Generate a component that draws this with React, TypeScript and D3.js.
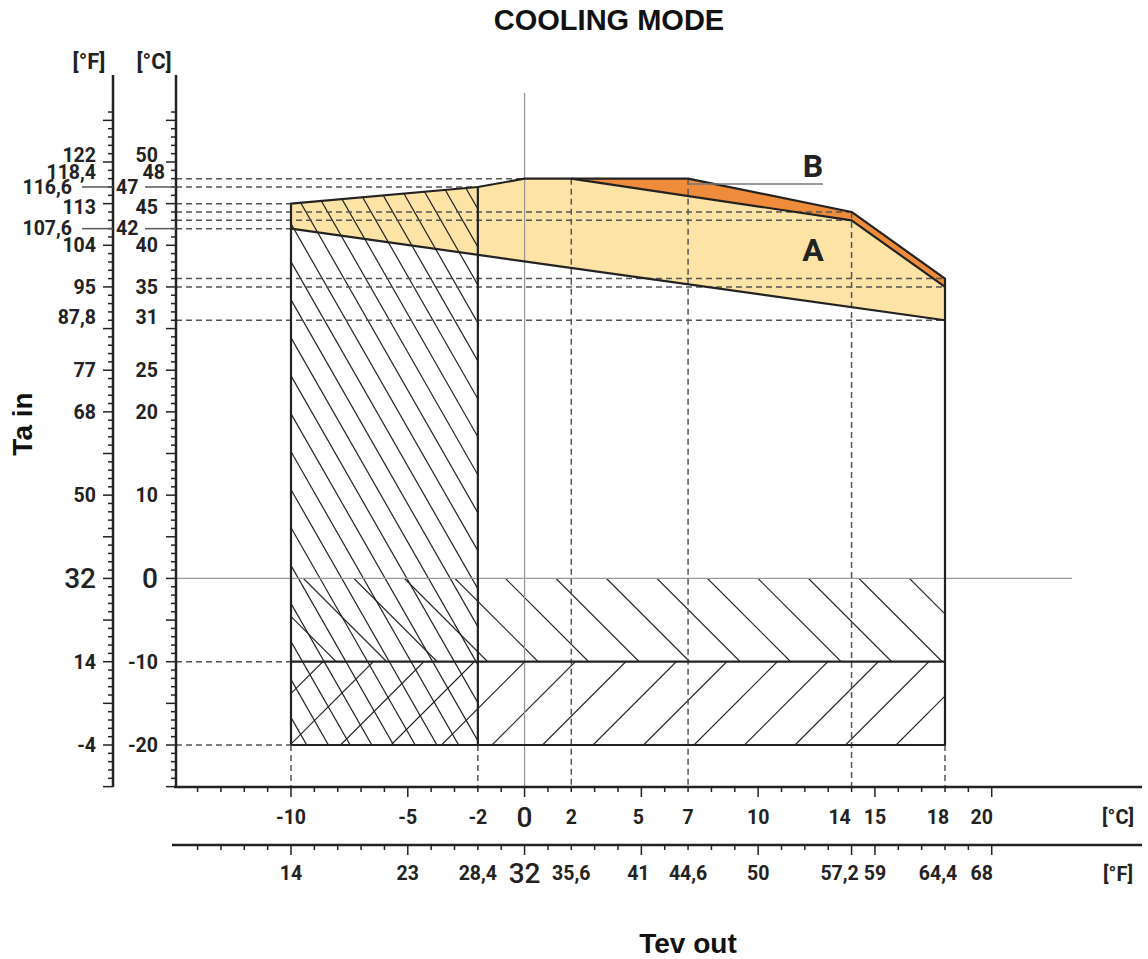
import React from 'react';
import * as d3 from 'd3';

const W = 1148;
const H = 959;

// Ta in (left axes) tick labels
const yTicksC = [50, 48, 47, 45, 42, 40, 35, 31, 25, 20, 10, 0, -10, -20];
const yTicksF = ['122', '118,4', '116,6', '113', '107,6', '104', '95', '87,8', '77', '68', '50', '32', '14', '-4'];
// Tev out (bottom axes) tick labels
const xTicksC = [-10, -5, -2, 0, 2, 5, 7, 10, 14, 15, 18, 20];
const xTicksF = ['14', '23', '28,4', '32', '35,6', '41', '44,6', '50', '57,2', '59', '64,4', '68'];

// envelope points [Tev out °C, Ta in °C]
const areaA = [[-10, 45], [-2, 47], [0, 48], [2, 48], [14, 43], [18, 35], [18, 31], [-10, 42]];
const areaB = [[2, 48], [7, 48], [14, 44], [18, 36], [18, 35], [14, 43]];
const outline = [[-10, -20], [-10, 45], [-2, 47], [0, 48], [7, 48], [14, 44], [18, 36], [18, -20], [-10, -20]];
const lowerA = [[-10, 42], [18, 31]];
const splitAB = [[2, 48], [14, 43], [18, 35]];
const leftColumn = [[-10, -20], [-10, 45], [-2, 47], [-2, -20]];

// dashed guides: [Ta, Tev where it stops] and [Tev, Ta where it starts]
const guideH = [[48, 0], [47, -2], [45, -10], [44, 14], [43, 14], [42, -10], [36, 18], [35, 18], [31, 18], [-10, -10], [-20, -10]];
const guideV = [[-10, -20], [-2, -20], [2, 48], [7, 48], [14, 44], [18, -20]];

const leaderTicks = [47, 42];
// small shifts so crowded labels don't collide (px)
const yLabelNudge: Record<number, number> = { 50: -7, 48: -6, 45: 4, 31: -3 };
const xLabelNudge: Record<number, number> = { 5: -3, 14: -12, 18: -7, 20: -10 };

const FONT = 'Roboto, sans-serif';
const TITLE_FONT = '"Liberation Sans", Arial, sans-serif';
const INK = '#222';

const x = d3.scaleLinear().domain([-10, 18]).range([291, 945]);
const y = d3.scaleLinear().domain([-20, 50]).range([745, 162]);

const line = d3.line<number[]>().x(d => x(d[0])).y(d => y(d[1]));

// hatch lines through (x0 + k*step, y0) with screen slope dy/dx
const hatch = (x0: number, y0: number, step: number, slope: number, top: number, bottom: number) => {
  const out: number[][] = [];
  for (let k = -60; k <= 60; k++) {
    const xb = x0 + k * step;
    out.push([xb + (top - y0) / slope, top, xb + (bottom - y0) / slope, bottom]);
  }
  return out;
};

const App = () => {
  const axisTop = 75;
  const axisBottom = 787;
  const fAxisX = 113;
  const cAxisX = 176;
  const fBottomY = 845;

  const yTickVals = d3.range(-25, 57);
  const xTickVals = d3.range(-14, 21);

  const steep = hatch(450, 578, 21.7, 1.75, 170, 760);
  const back = hatch(707, 578, 50.5, 1, 570, 670);
  const fwd = hatch(693, 746, 50.5, -1, 655, 755);

  const LBL = 19.5;

  return (
    <svg width={W} height={H} style={{ display: 'block', position: 'absolute', left: 0, top: 0, background: '#fff' }}
      fontFamily={FONT}>
      <defs>
        <clipPath id="clipL"><path d={line(leftColumn) + 'Z'} /></clipPath>
        <clipPath id="clipU"><rect x={x(-10)} y={y(0)} width={x(18) - x(-10)} height={y(-10) - y(0)} /></clipPath>
        <clipPath id="clipD"><rect x={x(-10)} y={y(-10)} width={x(18) - x(-10)} height={y(-20) - y(-10)} /></clipPath>
      </defs>

      <text x={609} y={30} textAnchor="middle" fontFamily={TITLE_FONT} fontSize={29} fontWeight={700} fill="#111">COOLING MODE</text>

      {/* fills */}
      <path d={line(areaA) + 'Z'} fill="#FDE3A5" />
      <path d={line(areaB) + 'Z'} fill="#EF8C3C" />

      {/* hatching */}
      <g stroke={INK} strokeWidth={1.2}>
        <g clipPath="url(#clipL)">
          {steep.map((l, i) => <line key={i} x1={l[0]} y1={l[1]} x2={l[2]} y2={l[3]} />)}
        </g>
        <g clipPath="url(#clipU)">
          {back.map((l, i) => <line key={i} x1={l[0]} y1={l[1]} x2={l[2]} y2={l[3]} />)}
        </g>
        <g clipPath="url(#clipD)">
          {fwd.map((l, i) => <line key={i} x1={l[0]} y1={l[1]} x2={l[2]} y2={l[3]} />)}
        </g>
      </g>

      {/* thin zero lines */}
      <line x1={cAxisX} x2={1072} y1={y(0)} y2={y(0)} stroke="#999" strokeWidth={1.3} />
      <line x1={x(0)} x2={x(0)} y1={93} y2={axisBottom} stroke="#999" strokeWidth={1.3} />

      {/* dashed guides */}
      <g stroke="#555" strokeWidth={1.5} strokeDasharray="6,4">
        {guideH.map(([t, to], i) => (
          <line key={'h' + i} x1={cAxisX} x2={x(to)} y1={y(t)} y2={y(t)} />
        ))}
        {guideV.map(([tv, from], i) => (
          <line key={'v' + i} x1={x(tv)} x2={x(tv)} y1={y(from)} y2={axisBottom} />
        ))}
      </g>

      {/* outlines */}
      <g fill="none" stroke={INK} strokeWidth={2.2} strokeLinejoin="round">
        <path d={line(outline) ?? ''} />
        <path d={line(lowerA) ?? ''} />
        <path d={line(splitAB) ?? ''} />
        <line x1={x(-2)} x2={x(-2)} y1={y(-20)} y2={y(47)} />
        <line x1={x(-10)} x2={x(18)} y1={y(-10)} y2={y(-10)} />
      </g>

      {/* A / B labels */}
      <line x1={x(7)} x2={823} y1={184} y2={184} stroke="#777" strokeWidth={1.3} />
      <text x={813} y={177} textAnchor="middle" fontSize={32} fontWeight={700} fill={INK}>B</text>
      <text x={813} y={261} textAnchor="middle" fontSize={32} fontWeight={700} fill={INK}>A</text>

      {/* left axes */}
      <g stroke={INK}>
        <line x1={fAxisX} x2={fAxisX} y1={axisTop} y2={axisBottom} strokeWidth={2.5} />
        <line x1={cAxisX} x2={cAxisX} y1={axisTop} y2={axisBottom} strokeWidth={2.5} />
        {yTickVals.map(t => {
          const len = t % 5 === 0 ? 10 : 5;
          return (
            <g key={t} strokeWidth={1.5}>
              <line x1={fAxisX - len} x2={fAxisX} y1={y(t)} y2={y(t)} />
              <line x1={cAxisX - len} x2={cAxisX} y1={y(t)} y2={y(t)} />
            </g>
          );
        })}
      </g>
      <text x={89} y={69} textAnchor="middle" fontSize={22} fontWeight={700} fill={INK}>[°F]</text>
      <text x={154} y={69} textAnchor="middle" fontSize={22} fontWeight={700} fill={INK}>[°C]</text>
      {yTicksC.map((t, i) => {
        const yy = y(t) + (yLabelNudge[t] ?? 0);
        const big = t === 0;
        const fs = big ? 28 : LBL;
        const fw = big ? 500 : 700;
        if (leaderTicks.includes(t)) {
          return (
            <g key={t}>
              <text x={72} y={yy} dy="0.35em" textAnchor="end" fontSize={fs} fontWeight={fw} fill={INK}>{yTicksF[i]}</text>
              <line x1={82} x2={fAxisX} y1={y(t)} y2={y(t)} stroke="#555" strokeWidth={1.5} />
              <text x={116} y={yy} dy="0.35em" textAnchor="start" fontSize={fs} fontWeight={fw} fill={INK}>{t}</text>
              <line x1={145} x2={cAxisX} y1={y(t)} y2={y(t)} stroke="#555" strokeWidth={1.5} />
            </g>
          );
        }
        return (
          <g key={t}>
            <text x={96} y={yy} dy="0.35em" textAnchor="end" fontSize={fs} fontWeight={fw} fill={INK}>{yTicksF[i]}</text>
            <text x={t === 48 ? 165 : 158} y={yy} dy="0.35em" textAnchor="end" fontSize={fs} fontWeight={fw} fill={INK}>{t}</text>
          </g>
        );
      })}
      <text transform={`translate(32,424) rotate(-90)`} textAnchor="middle" fontFamily={TITLE_FONT} fontSize={28} fontWeight={700} fill="#111">Ta in</text>

      {/* bottom axes */}
      <g stroke={INK}>
        <line x1={cAxisX - 2} x2={1142} y1={axisBottom} y2={axisBottom} strokeWidth={2.5} />
        <line x1={172} x2={1142} y1={fBottomY} y2={fBottomY} strokeWidth={2.5} />
        {xTickVals.map(t => {
          const len = t % 5 === 0 ? 10 : 5;
          const lenF = t % 5 === 0 || t === 14 ? 10 : 5;
          return (
            <g key={t} strokeWidth={1.5}>
              <line x1={x(t)} x2={x(t)} y1={axisBottom} y2={axisBottom + len} />
              <line x1={x(t)} x2={x(t)} y1={fBottomY} y2={fBottomY + lenF} />
            </g>
          );
        })}
      </g>
      {xTicksC.map((t, i) => {
        const big = t === 0;
        const xx = x(t) + (xLabelNudge[t] ?? 0);
        return (
          <g key={t}>
            <text x={xx} y={817} dy="0.35em" textAnchor="middle" fontSize={big ? 28 : LBL} fontWeight={big ? 500 : 700} fill={INK}>{t}</text>
            <text x={xx} y={873} dy="0.35em" textAnchor="middle" fontSize={big ? 28 : LBL} fontWeight={big ? 500 : 700} fill={INK}>{xTicksF[i]}</text>
          </g>
        );
      })}
      <text x={1118} y={817} dy="0.35em" textAnchor="middle" fontSize={20} fontWeight={700} fill={INK}>[°C]</text>
      <text x={1118} y={874} dy="0.35em" textAnchor="middle" fontSize={20} fontWeight={700} fill={INK}>[°F]</text>
      <text x={688} y={953} textAnchor="middle" fontFamily={TITLE_FONT} fontSize={28} fontWeight={700} fill="#111">Tev out</text>
    </svg>
  );
};

export default App;
